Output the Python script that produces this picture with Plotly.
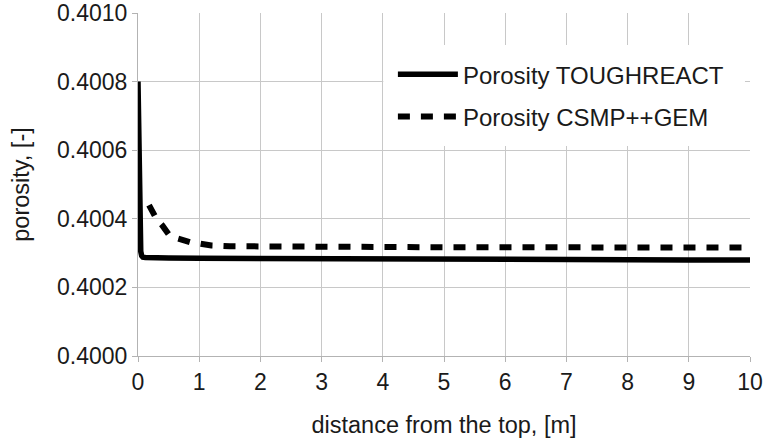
import plotly.graph_objects as go

# distance from the top [m] and porosity [-]
x_tough = [0.0, 0.01, 0.02, 0.03, 0.045, 0.06, 0.08, 0.12, 0.2, 0.5, 1, 2, 3, 4, 5, 6, 7, 8, 9, 10]
y_tough = [0.40080, 0.40066, 0.40050, 0.40036, 0.400305, 0.400292, 0.400288, 0.400287, 0.400286,
           0.400286, 0.400285, 0.400284, 0.400283, 0.400283, 0.400282, 0.400282, 0.400281, 0.400281,
           0.400280, 0.400280]

x_csmp = [0.18, 0.25, 0.3, 0.4, 0.5, 0.6, 0.7, 0.85, 1.0, 1.2, 1.5, 2, 3, 4, 5, 6, 7, 8, 9, 10]
y_csmp = [0.40044, 0.40042, 0.40040, 0.40038, 0.400355, 0.400345, 0.400338, 0.400332, 0.400328,
          0.400322, 0.400320, 0.400319, 0.400318, 0.400318, 0.400317, 0.400317, 0.400317, 0.400316,
          0.400316, 0.400316]

x_ticks = list(range(0, 11))
y_ticks = [0.4000, 0.4002, 0.4004, 0.4006, 0.4008, 0.4010]

FONT = "Liberation Sans, Arial, sans-serif"
TXT = "#1a1a1a"
GRID = "#c8c8c8"
AXIS = "#b3b3b3"

fig = go.Figure()
fig.add_trace(go.Scatter(x=x_tough, y=y_tough, mode="lines", name="Porosity TOUGHREACT",
                         legendgroup="a",
                         line=dict(color="black", width=5.5)))
fig.add_trace(go.Scatter(x=x_csmp, y=y_csmp, mode="lines", name="Porosity CSMP++GEM",
                         legendgroup="b",
                         line=dict(color="black", width=6, dash="12px,11px")))

# white legend panel covering the grid
fig.add_shape(type="rect", xref="paper", yref="paper",
              x0=0.4008, x1=0.9918, y0=0.6122, y1=0.9067,
              fillcolor="white", line=dict(width=0), layer="above")

fig.update_layout(
    template="none",
    width=765, height=441,
    margin=dict(l=138, r=15, t=13, b=85),
    paper_bgcolor="white", plot_bgcolor="white",
    font=dict(family=FONT, size=23, color=TXT),
    showlegend=True,
    legend=dict(x=0.4165, xanchor="left", y=0.886, yanchor="top",
                bgcolor="rgba(0,0,0,0)", borderwidth=0,
                itemwidth=60, tracegroupgap=8, traceorder="grouped",
                font=dict(family=FONT, size=24, color=TXT)),
    xaxis=dict(range=[0, 10], tickvals=x_ticks, ticktext=[str(v) for v in x_ticks],
               showgrid=True, gridcolor=GRID, gridwidth=1,
               showline=True, linecolor=AXIS, linewidth=1, mirror=False,
               ticks="outside", ticklen=5, tickcolor=AXIS, tickwidth=1,
               zeroline=False, automargin=False,
               tickfont=dict(family=FONT, size=23, color=TXT),
               title=dict(text="distance from the top, [m]", standoff=22,
                          font=dict(family=FONT, size=23.5, color=TXT))),
    yaxis=dict(range=[0.4000, 0.4010], tickvals=y_ticks, ticktext=[f"{v:.4f}" for v in y_ticks],
               showgrid=True, gridcolor=GRID, gridwidth=1,
               showline=True, linecolor=AXIS, linewidth=1,
               ticks="outside", ticklen=5, tickcolor=AXIS, tickwidth=1,
               zeroline=False, automargin=False,
               tickfont=dict(family=FONT, size=23, color=TXT),
               title=dict(text="porosity, [-]", standoff=20,
                          font=dict(family=FONT, size=23.5, color=TXT))),
)
fig.write_html("out.html")
